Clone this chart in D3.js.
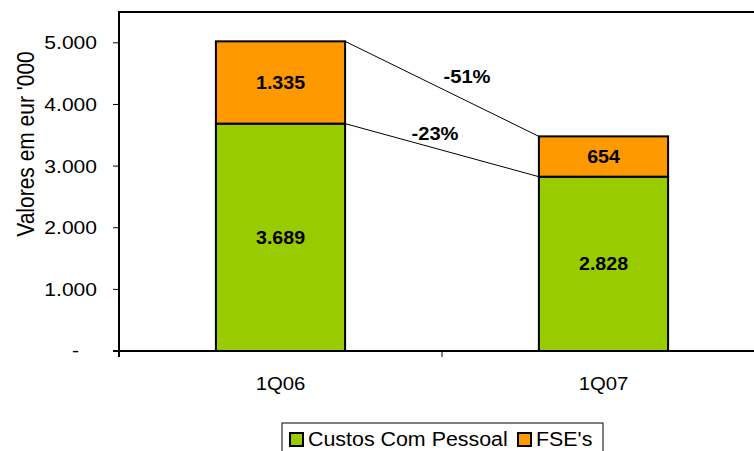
<!DOCTYPE html>
<html>
<head>
<meta charset="UTF-8">
<script src="https://d3js.org/d3.v7.min.js"></script>
<style>
	body { margin: 0; background: #fff; }
	text { font-family: "Liberation Sans", Arial, sans-serif; fill: #000; }
</style>
</head>
<body>
<div id="chart"></div>
<script>
	// data
	let categories = ["1Q06", "1Q07"];
	let seriesNames = ["Custos Com Pessoal", "FSE's"];
	let pessoal = [3689, 2828];
	let fse = [1335, 654];
	let changes = ["-51%", "-23%"]; // total top, green top
	let yTicks = [0, 1000, 2000, 3000, 4000, 5000];

	let colors = ["#99cc00", "#ff9900"];

	let width = 754, height = 451;
	let plotLeft = 119, plotTop = 12, plotBottom = 351, plotRight = 765;

	let svg = d3.select("#chart").append("svg")
		.attr("width", width)
		.attr("height", height);

	let pt = d3.formatLocale({ decimal: ",", thousands: ".", grouping: [3], currency: ["€", ""] });
	let fmt = v => v === 0 ? "-" : pt.format(",")(v);

	// the original text is a bit wider than plain Arial
	function place(sel, fx, fy, sx) {
		sel.attr("transform", (d, i) => `translate(${fx(d, i)},${fy(d, i)}) scale(${sx},1)`);
	}

	let y = d3.scaleLinear().domain([0, 5500]).range([plotBottom, plotTop]);
	let x = d3.scaleBand().domain(categories).range([plotLeft, plotRight]).paddingInner(0.6).paddingOuter(0.3);

	let stackData = categories.map((c, i) => ({ cat: c, vals: [pessoal[i], fse[i]] }));
	let stack = d3.stack().keys([0, 1]).value((d, k) => d.vals[k]);
	let layers = stack(stackData);

	// y ticks + labels (accounting style: the zero dash sits further left)
	svg.selectAll(".ytick")
		.data(yTicks)
		.join("line")
		.attr("class", "ytick")
		.attr("x1", plotLeft - 6).attr("x2", plotLeft)
		.attr("y1", d => y(d)).attr("y2", d => y(d))
		.attr("stroke", "#000");
	svg.selectAll(".ylab")
		.data(yTicks)
		.join("text")
		.attr("class", "ylab")
		.attr("text-anchor", "end")
		.attr("dy", "0.36em")
		.attr("font-size", 18)
		.text(fmt)
		.call(place, d => d === 0 ? 79 : 97, d => y(d), 1.17);

	// frame
	svg.append("line").attr("x1", plotLeft).attr("x2", width).attr("y1", plotTop).attr("y2", plotTop)
		.attr("stroke", "#000").attr("stroke-width", 2);
	svg.append("line").attr("x1", plotLeft).attr("x2", plotLeft).attr("y1", plotTop - 1).attr("y2", plotBottom + 6)
		.attr("stroke", "#000").attr("stroke-width", 2);

	// bars
	svg.selectAll(".layer")
		.data(layers)
		.join("g")
		.attr("class", "layer")
		.attr("fill", (d, i) => colors[i])
		.selectAll("rect")
		.data(d => d)
		.join("rect")
		.attr("x", d => x(d.data.cat))
		.attr("width", x.bandwidth())
		.attr("y", d => y(d[1]))
		.attr("height", d => y(d[0]) - y(d[1]))
		.attr("stroke", "#000")
		.attr("stroke-width", 2);

	// value labels
	layers.forEach(layer => {
		svg.selectAll(null)
			.data(layer)
			.join("text")
			.attr("dy", "0.36em")
			.attr("text-anchor", "middle")
			.attr("font-size", 18)
			.attr("font-weight", "bold")
			.text(d => fmt(d[1] - d[0]))
			.call(place, d => x(d.data.cat) + x.bandwidth() / 2, d => (y(d[0]) + y(d[1])) / 2, 1.09);
	});

	// connector lines between bars
	let connectors = [layers[1], layers[0]].map((layer, i) => ({
		x1: x(categories[0]) + x.bandwidth(),
		y1: y(layer[0][1]),
		x2: x(categories[1]),
		y2: y(layer[1][1]),
		label: changes[i]
	}));
	svg.selectAll(".conn")
		.data(connectors)
		.join("line")
		.attr("class", "conn")
		.attr("x1", d => d.x1).attr("y1", d => d.y1)
		.attr("x2", d => d.x2).attr("y2", d => d.y2)
		.attr("stroke", "#000").attr("stroke-width", 1);
	let labOffsets = [[25, -12], [-7, -17]];
	svg.selectAll(".connlab")
		.data(connectors)
		.join("text")
		.attr("class", "connlab")
		.attr("dy", "0.36em")
		.attr("text-anchor", "middle")
		.attr("font-size", 18)
		.attr("font-weight", "bold")
		.text(d => d.label)
		.call(place, (d, i) => (d.x1 + d.x2) / 2 + labOffsets[i][0], (d, i) => (d.y1 + d.y2) / 2 + labOffsets[i][1], 1.12);

	// x axis
	svg.append("line").attr("x1", plotLeft - 6).attr("x2", width).attr("y1", plotBottom).attr("y2", plotBottom)
		.attr("stroke", "#000").attr("stroke-width", 2);
	svg.selectAll(".xtick")
		.data([(x(categories[0]) + x.bandwidth() + x(categories[1])) / 2])
		.join("line")
		.attr("class", "xtick")
		.attr("x1", d => d).attr("x2", d => d)
		.attr("y1", plotBottom).attr("y2", plotBottom + 6)
		.attr("stroke", "#000");
	svg.selectAll(".xlab")
		.data(categories)
		.join("text")
		.attr("class", "xlab")
		.attr("text-anchor", "middle")
		.attr("font-size", 18)
		.text(d => d)
		.call(place, d => x(d) + x.bandwidth() / 2, () => 390, 1.13);

	// y title
	svg.append("text")
		.attr("transform", "translate(34,144) rotate(-90) scale(1,1.15)")
		.attr("text-anchor", "middle")
		.attr("font-size", 21)
		.text("Valores em eur '000");

	// legend
	let lg = svg.append("g").attr("transform", "translate(282,423)");
	lg.append("rect").attr("x", 0).attr("y", 0).attr("width", 321).attr("height", 40)
		.attr("fill", "#fff").attr("stroke", "#000").attr("stroke-width", 1);
	let lx = [8, 236];
	seriesNames.forEach((n, i) => {
		lg.append("rect").attr("x", lx[i]).attr("y", 10).attr("width", 13).attr("height", 13)
			.attr("fill", colors[i]).attr("stroke", "#000").attr("stroke-width", 2);
		lg.append("text")
			.attr("font-size", 20)
			.attr("transform", `translate(${lx[i] + 18},23) scale(1.07,1)`)
			.text(n);
	});
</script>
</body>
</html>
